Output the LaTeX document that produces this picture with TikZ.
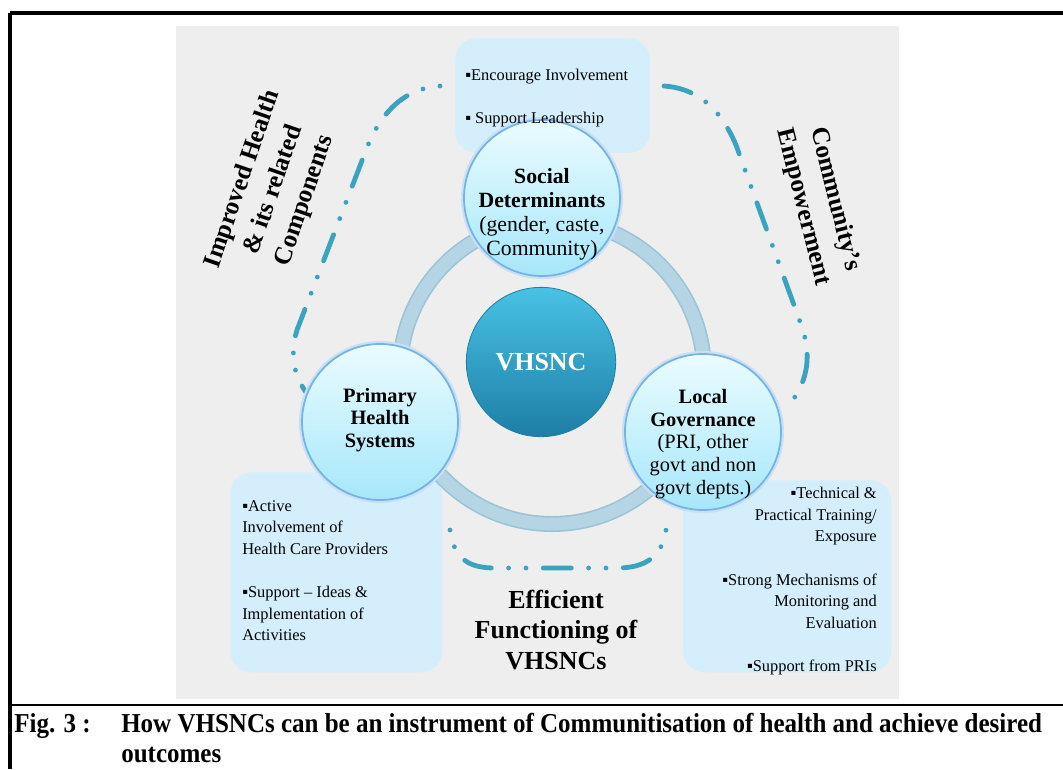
\documentclass[tikz,border=0pt]{standalone}
\usepackage{fontspec}
\setmainfont{Liberation Serif}
\newfontfamily\capfont[FakeStretch=0.915]{Liberation Serif}
\usetikzlibrary{positioning,calc}
\definecolor{BgClr}{RGB}{238,238,238}
\definecolor{BoxClr}{RGB}{212,239,251}
\definecolor{DashClr}{RGB}{58,163,192}
\definecolor{RingClr}{RGB}{182,213,228}
\definecolor{RingEdge}{RGB}{156,196,216}
\definecolor{CircTop}{RGB}{234,252,255}
\definecolor{CircBot}{RGB}{166,231,250}
\definecolor{CircEdge}{RGB}{118,178,228}
\definecolor{CoreTop}{RGB}{72,194,228}
\definecolor{CoreBot}{RGB}{30,126,166}

\tikzset{
  infobox/.style={fill=BoxClr,rounded corners=16pt,inner sep=0pt,anchor=north west},
  bubble/.style={circle,inner sep=0pt,minimum size=117pt,top color=CircTop,bottom color=CircBot,
    draw=CircEdge,line width=1.3pt,preaction={draw=CircEdge!40,line width=4.5pt}},
  bubbletext/.style={inner sep=0pt,align=center,font=\fontsize{15.3}{17}\selectfont},
  core/.style={circle,inner sep=0pt,minimum size=112pt,top color=CoreTop,bottom color=CoreBot,
    draw=CoreBot,line width=.6pt,text=white,font=\fontsize{19.5}{24}\selectfont\bfseries},
  boxtext/.style={inner sep=0pt,font=\fontsize{12.3}{16.2}\selectfont},
  bigtext/.style={inner sep=0pt,align=center,font=\fontsize{19.5}{23}\selectfont\bfseries},
  sidetext/.style={bigtext,font=\fontsize{19}{24.5}\selectfont\bfseries},
  dashline/.style={draw=DashClr,line width=3.6pt,line cap=round},
  captext/.style={inner sep=0pt,anchor=base west,font=\capfont\fontsize{20.5}{22.5}\selectfont\bfseries}
}

\begin{document}
\begin{tikzpicture}[x=0.75pt,y=-0.75pt]
\useasboundingbox (0,0) rectangle (1063,769);

\fill[BgClr] (176,26) rectangle (899,699);

\node[infobox,minimum width=146pt,minimum height=86pt] (topbox) at (455,38) {};
\node[infobox,minimum width=159pt,minimum height=150pt] (leftbox) at (230,472) {};
\node[infobox,minimum width=156pt,minimum height=144pt] (rightbox) at (683,480) {};

\coordinate (la1) at (440,86);
\coordinate (la2) at (368,145);
\coordinate (la3) at (297,330);
\coordinate (la4) at (316,404);
\coordinate (ra1) at (664,86);
\coordinate (ra2) at (736,145);
\coordinate (ra3) at (803,330);
\coordinate (ra4) at (789,405);
\coordinate (ba1) at (450,530);
\coordinate (ba2) at (495,568);
\coordinate (ba3) at (617,568);
\coordinate (ba4) at (666,530);

\draw[dashline,dash pattern=on 0pt off 13pt on 0pt off 13pt on 21pt off 13pt]
  (la1) .. controls (410,88) and (385,105) .. (la2) -- (la3) .. controls (288,360) and (296,384) .. (la4);
\draw[dashline,dash pattern=on 21pt off 13pt on 0pt off 13pt on 0pt off 13pt]
  (ra1) .. controls (694,88) and (719,105) .. (ra2) -- (ra3) .. controls (812,360) and (806,384) .. (ra4);
\draw[dashline,dash pattern=on 0pt off 13pt on 0pt off 13pt on 21pt off 13pt]
  (ba1) .. controls (454,560) and (470,568) .. (ba2) -- (ba3) .. controls (645,568) and (662,557) .. (ba4);

\coordinate (hub) at (552,372);
\draw[RingEdge,line width=12pt] (hub) circle (114pt);
\draw[RingClr,line width=9.5pt] (hub) circle (114pt);

\node[core] (vhsnc) at (541,362) {VHSNC};
\node[bubble] (social) at (542,198) {};
\node[bubble] (primary) at (380,422) {};
\node[bubble] (local) at (703,432) {};

\node[bubbletext,font=\fontsize{16.3}{18}\selectfont] (socialtext) at (542,214)
  {\textbf{Social}\\\textbf{Determinants}\\(gender, caste,\\Community)};
\node[bubbletext] (primarytext) at (380,420) {\textbf{Primary}\\\textbf{Health}\\\textbf{Systems}};
\node[bubbletext] (localtext) at (703,444)
  {\textbf{Local}\\\textbf{Governance}\\(PRI, other\\govt and non\\govt depts.)};

\node[boxtext,anchor=north west,align=left] (toptext) at (465,69)
  {▪Encourage Involvement\\[16.2pt]▪ Support Leadership};
\node[boxtext,anchor=north west,align=left] (lefttext) at (242,500)
  {▪Active\\Involvement of\\Health Care Providers\\[16.2pt]▪Support -- Ideas \&\\Implementation of\\Activities};
\node[boxtext,anchor=north east,align=right] (righttext) at (877,487)
  {▪Technical \&\\Practical Training/\\Exposure\\[16.2pt]▪Strong Mechanisms of\\Monitoring and\\Evaluation\\[16.2pt]▪Support from PRIs};

\node[bigtext] (efficient) at (556,630) {Efficient\\Functioning of\\VHSNCs};
\node[sidetext,rotate=71] (improved) at (274,190) {Improved Health\\\& its related\\Components};
\node[sidetext,rotate=-76] (empower) at (819,203) {Community's\\Empowerment};

\draw[line width=2.6pt] (10,13) -- (1063,13);
\draw[line width=2.6pt] (10,13) -- (10,769);
\draw[line width=2pt] (10,705) -- (1063,705);

\node[captext] (figtag) at (14,732) {Fig. 3 :};
\node[captext] (capone) at (121,732) {How VHSNCs can be an instrument of Communitisation of health and achieve desired};
\node[captext] (captwo) at (121,762) {outcomes};

\end{tikzpicture}
\end{document}
